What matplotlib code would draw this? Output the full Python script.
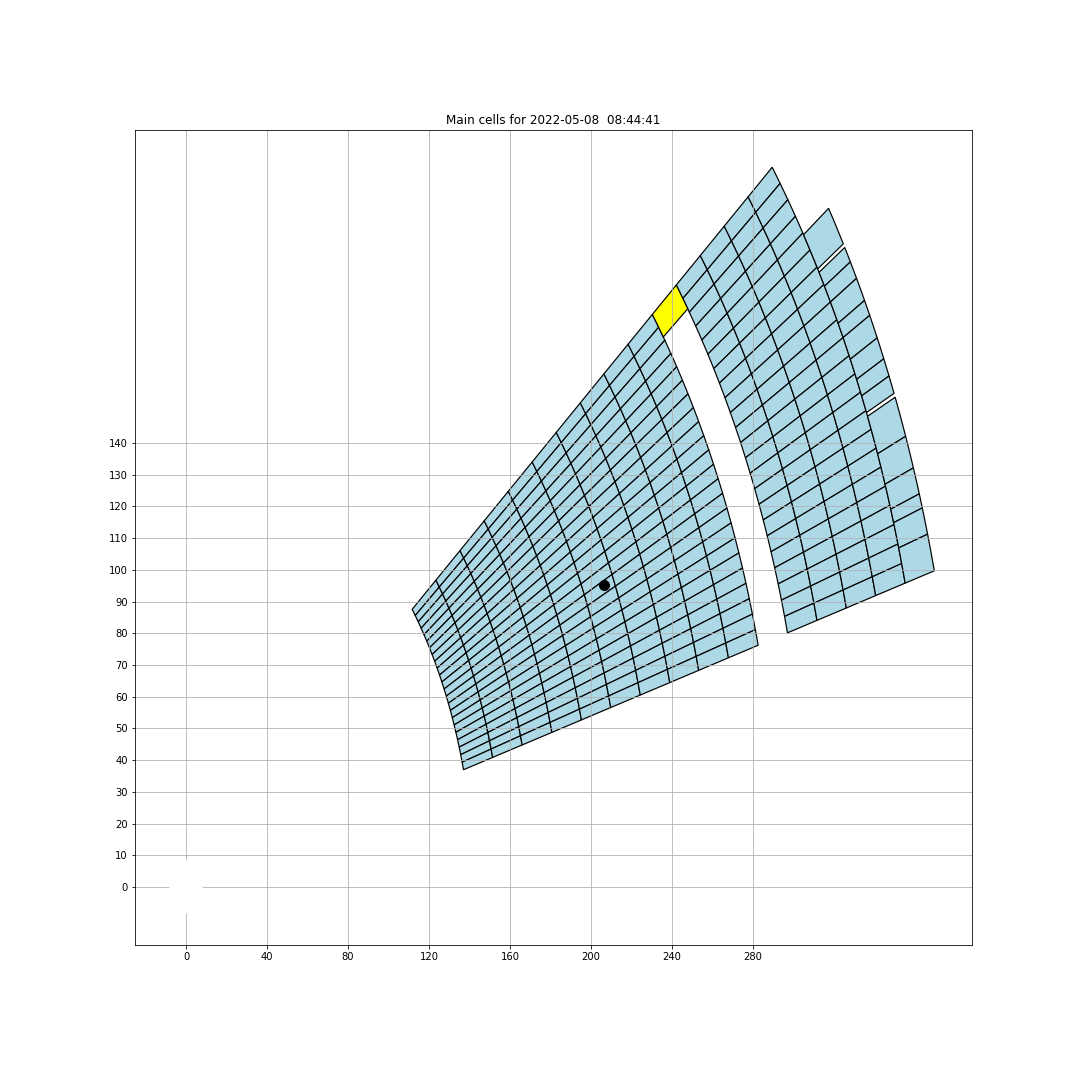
import numpy as np
import matplotlib
matplotlib.use("Agg")
import matplotlib.pyplot as plt
from matplotlib.patches import Polygon, Circle

# ---- data ----
title = "Main cells for 2022-05-08  08:44:41"

# range-bin edges (km)
range_edges = [141.9, 156.8, 171.9, 187.1, 202.2, 217.2, 232.3, 247.4, 262.2,
               277.4, 292.6, 307.6, 322.7, 337.7, 352.7, 367.8, 382.7]

# azimuth edges (deg) of the regular 1-degree cells
az_edges_main = [51.9, 52.9, 53.9, 54.9, 55.9, 56.9, 57.9, 58.9, 59.9, 60.9,
                 61.9, 62.9, 63.9, 64.9, 65.9, 66.9, 67.9, 68.9, 69.9, 70.9,
                 71.9, 72.9, 73.9, 74.9]

# range bins filled with the regular azimuth cells
full_rings = [0, 1, 2, 3, 4, 5, 6, 7, 8, 9, 11, 12, 13, 14]

# highlighted (yellow) cell: range bin and azimuth span
highlight_ring = 10
highlight_az = [51.9, 53.65]

# outermost range bin: groups of contiguous azimuth edges
outer_ring = 15
outer_ring_az_groups = [
    [56.0, 58.0],
    [58.2, 59.0, 59.9, 61.1, 61.9, 63.1, 64.2, 65.1, 66.0],
    [66.2, 68.2, 69.8, 71.1, 71.8, 73.1, 74.9],
]

# storm centroid and radar site
centroid_x = [206.4]
centroid_y = [95.2]
site_x, site_y, site_radius = 0.0, 0.0, 8.3

xticks = [0, 40, 80, 120, 160, 200, 240, 280]
yticks = [0, 10, 20, 30, 40, 50, 60, 70, 80, 90, 100, 110, 120, 130, 140]
xlim = (-25.2, 388.1)
ylim = (-18.3, 238.7)


def cell_polygon(r0, r1, a0, a1, n=10):
    az_in = np.radians(np.linspace(a0, a1, n))
    az_out = az_in[::-1]
    xs = np.concatenate([r0 * np.sin(az_in), r1 * np.sin(az_out)])
    ys = np.concatenate([r0 * np.cos(az_in), r1 * np.cos(az_out)])
    return np.column_stack([xs, ys])


fig = plt.figure(figsize=(15, 15), dpi=72)
ax = fig.add_axes([135 / 1080, 135 / 1080, 837 / 1080, 815 / 1080])

cells = []
for k in full_rings:
    for a0, a1 in zip(az_edges_main[:-1], az_edges_main[1:]):
        cells.append((range_edges[k], range_edges[k + 1], a0, a1, "lightblue"))
for grp in outer_ring_az_groups:
    for a0, a1 in zip(grp[:-1], grp[1:]):
        cells.append((range_edges[outer_ring], range_edges[outer_ring + 1], a0, a1, "lightblue"))
cells.append((range_edges[highlight_ring], range_edges[highlight_ring + 1],
              highlight_az[0], highlight_az[1], "yellow"))

for r0, r1, a0, a1, col in cells:
    ax.add_patch(Polygon(cell_polygon(r0, r1, a0, a1), closed=True,
                         facecolor=col, edgecolor="black", linewidth=1.2))

ax.add_patch(Circle((site_x, site_y), site_radius, facecolor="white",
                    edgecolor="none", zorder=2))
ax.plot(centroid_x, centroid_y, "o", color="black", markersize=10, zorder=3)

ax.set_xlim(*xlim)
ax.set_ylim(*ylim)
ax.set_xticks(xticks)
ax.set_yticks(yticks)
ax.grid(True)
ax.set_title(title, fontsize=12)

fig.savefig("out.png", dpi=72)
